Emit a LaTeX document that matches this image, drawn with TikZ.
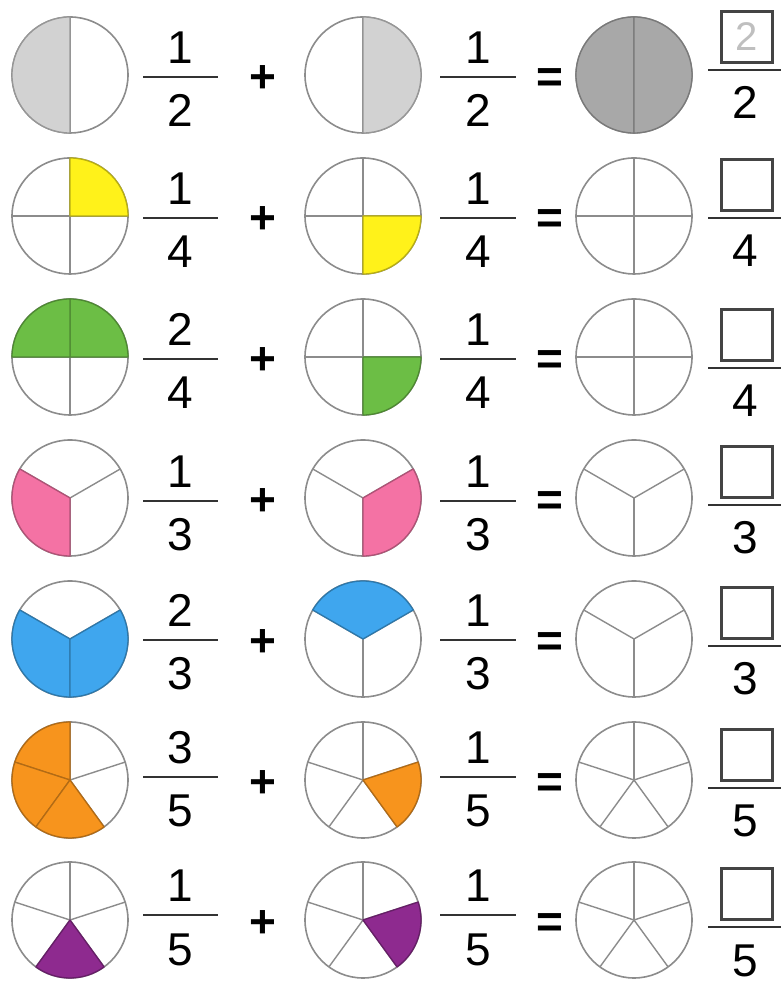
\documentclass[tikz,border=0pt]{standalone}
\usepackage{fontspec}
\setmainfont{Liberation Sans}
\definecolor{pieedge}{HTML}{8C8C8C}
\definecolor{barcol}{HTML}{333333}
\definecolor{boxcol}{HTML}{444444}
\definecolor{lgray}{HTML}{D2D2D2}
\definecolor{dgray}{HTML}{A8A8A8}
\definecolor{pyellow}{HTML}{FFF21A}
\definecolor{pgreen}{HTML}{6CBE45}
\definecolor{ppink}{HTML}{F472A4}
\definecolor{pblue}{HTML}{3FA6EE}
\definecolor{porange}{HTML}{F7941D}
\definecolor{ppurple}{HTML}{8E2A8F}
\newcommand\digfont{\fontsize{46}{46}\selectfont}
\newcommand\opfont{\fontsize{46}{46}\selectfont\bfseries}
\newcommand\piesector[4]{%
  \filldraw[fill=#4, draw=#4!72!black, line width=1.3pt, line join=round]
    (#1.center) -- ++(#2:58) arc[start angle=#2, end angle=#3, radius=58] -- cycle;}
\newcommand\fracrow[8]{%
  \pgfmathsetmacro\cy{981-#2}
  \pgfmathsetmacro\ya{\cy-#7}
  \pgfmathsetmacro\yr{\cy-#6}
  \node[pie] (c#1a) at (70,\cy) {};
  \node[pie] (c#1b) at (363,\cy) {};
  \node[pie] (c#1c) at (634,\cy) {};
  \foreach \a in {#8} {
    \draw[divider] (c#1a.center) -- ++(\a:58);
    \draw[divider] (c#1b.center) -- ++(\a:58);
    \draw[divider] (c#1c.center) -- ++(\a:58);
  }
  % first fraction
  \coordinate (f#1a1) at (143,\ya);
  \coordinate (f#1a2) at (218,\ya);
  \draw[fracbar] (f#1a1) -- (f#1a2);
  \node[num] (n#1a) at (180.5,{\ya+13}) {#3};
  \node[num] (d#1a) at (180.5,{\ya-50}) {#4};
  \node[op] (p#1) at (263,{\cy-18}) {+};
  % second fraction
  \coordinate (f#1b1) at (440,\ya);
  \coordinate (f#1b2) at (516,\ya);
  \draw[fracbar] (f#1b1) -- (f#1b2);
  \node[num] (n#1b) at (478,{\ya+13}) {#5};
  \node[num] (d#1b) at (478,{\ya-50}) {#4};
  \node[op] (e#1) at (550,{\cy-18}) {=};
  % result
  \coordinate (f#1c1) at (708,\yr);
  \coordinate (f#1c2) at (781,\yr);
  \draw[fracbar] (f#1c1) -- (f#1c2);
  \node[ansbox] (b#1) at (747,{\yr+33}) {};
  \node[num] (d#1c) at (745,{\yr-49}) {#4};
}
\begin{document}
\begin{tikzpicture}[x=1pt,y=1pt,
  pie/.style={circle, draw=pieedge, line width=1.6pt, fill=white, minimum size=116pt, inner sep=0pt},
  divider/.style={draw=pieedge, line width=1.4pt},
  num/.style={font=\digfont, anchor=base, inner sep=0pt, text=black},
  op/.style={font=\opfont, anchor=base, inner sep=0pt, text=black},
  fracbar/.style={draw=barcol, line width=2.8pt},
  ansbox/.style={draw=boxcol, line width=2.2pt, minimum width=51pt, minimum height=51pt, inner sep=0pt}]
\useasboundingbox[fill=white] (0,0) rectangle (781,981);

% row 1
\fracrow{1}{75}{1}{2}{1}{-5}{2}{90,270}
\piesector{c1a}{90}{270}{lgray}
\piesector{c1b}{-90}{90}{lgray}
\piesector{c1c}{90}{270}{dgray}
\piesector{c1c}{-90}{90}{dgray}
\node[font=\fontsize{40}{40}\selectfont, text=black!25] (g1) at (b1.center) {2};

% row 2
\fracrow{2}{216}{1}{4}{1}{2}{2}{0,90,180,270}
\piesector{c2a}{0}{90}{pyellow}
\piesector{c2b}{-90}{0}{pyellow}

% row 3
\fracrow{3}{357}{2}{4}{1}{11}{2}{0,90,180,270}
\piesector{c3a}{0}{90}{pgreen}
\piesector{c3a}{90}{180}{pgreen}
\piesector{c3b}{-90}{0}{pgreen}

% row 4
\fracrow{4}{498}{1}{3}{1}{7}{3}{30,150,270}
\piesector{c4a}{150}{270}{ppink}
\piesector{c4b}{-90}{30}{ppink}

% row 5
\fracrow{5}{639}{2}{3}{1}{7}{1}{30,150,270}
\piesector{c5a}{150}{270}{pblue}
\piesector{c5a}{270}{390}{pblue}
\piesector{c5b}{30}{150}{pblue}

% row 6
\fracrow{6}{780}{3}{5}{1}{8}{-3}{18,90,162,234,306}
\piesector{c6a}{90}{162}{porange}
\piesector{c6a}{162}{234}{porange}
\piesector{c6a}{234}{306}{porange}
\piesector{c6b}{-54}{18}{porange}

% row 7
\fracrow{7}{920}{1}{5}{1}{7}{-5}{18,90,162,234,306}
\piesector{c7a}{234}{306}{ppurple}
\piesector{c7b}{-54}{18}{ppurple}
\end{tikzpicture}
\end{document}
